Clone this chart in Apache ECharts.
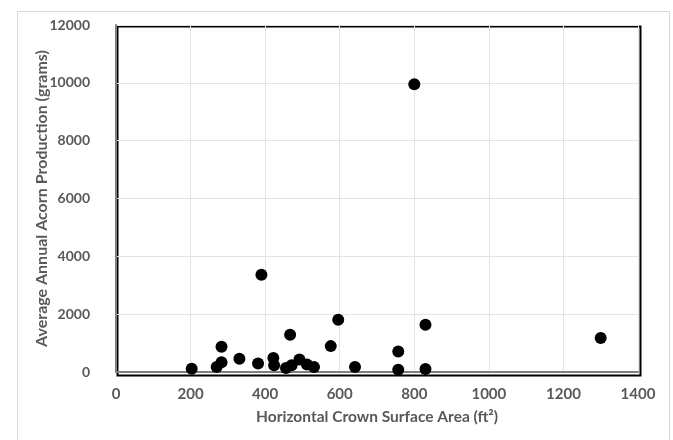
<!DOCTYPE html>
<html>
<head>
<meta charset="utf-8">
<script src="https://cdn.jsdelivr.net/npm/echarts@6/dist/echarts.min.js"></script>
<style>html,body{margin:0;padding:0;background:#fff}#c{width:673px;height:440px}</style>
</head>
<body>
<div id="c"></div>
<script>
const crownArea = [203, 270, 283, 283, 331, 381, 390, 422, 424, 456, 467, 471, 492, 512, 531, 576, 596, 641, 757, 757, 800, 830, 830, 1300];
const acornGrams = [114, 172, 340, 870, 459, 290, 3360, 483, 230, 140, 1290, 230, 430, 260, 172, 895, 1805, 172, 711, 79, 9950, 1633, 103, 1173];
const xTicks = [0, 200, 400, 600, 800, 1000, 1200, 1400];
const yTicks = [0, 2000, 4000, 6000, 8000, 10000, 12000];
const xTitle = 'Horizontal Crown Surface Area (ft²)';
const yTitle = 'Average Annual Acorn Production (grams)';

const points = crownArea.map((x, i) => [x, acornGrams[i]]);
const font = 'Lato, "Open Sans", sans-serif';
const chart = echarts.init(document.getElementById('c'), null, {renderer: 'canvas'});
chart.setOption({
  animation: false,
  graphic: [{
    type: 'rect', left: 15, top: 9, shape: {width: 652, height: 440},
    style: {fill: 'none', stroke: '#d9d9d9', lineWidth: 1}, silent: true, z: 0
  }, {
    type: 'rect', left: 115, top: 24, shape: {width: 523, height: 349},
    style: {fill: 'none', stroke: '#000', lineWidth: 2}, silent: true, z: 1
  }],
  grid: {left: 116, right: 35, top: 25, bottom: 68, show: false, containLabel: false},
  xAxis: {
    type: 'value', min: xTicks[0], max: xTicks[xTicks.length - 1], interval: 200,
    name: xTitle, nameLocation: 'middle', nameGap: 37, nameMoveOverlap: false,
    nameTextStyle: {fontFamily: font, fontWeight: 'bold', fontSize: 15.5, color: '#595959'},
    axisLine: {show: true, onZero: false, lineStyle: {color: '#7f7f7f', width: 2}},
    axisTick: {show: false},
    axisLabel: {fontFamily: font, fontWeight: 'bold', fontSize: 15, color: '#595959', margin: 15,
      formatter: v => String(v)},
    splitLine: {show: true, lineStyle: {color: '#e3e3e3', width: 1}},
    z: 2
  },
  yAxis: {
    type: 'value', min: yTicks[0], max: yTicks[yTicks.length - 1], interval: 2000,
    name: yTitle, nameLocation: 'middle', nameGap: 66, nameMoveOverlap: false,
    nameTextStyle: {fontFamily: font, fontWeight: 'bold', fontSize: 16, color: '#595959'},
    axisLine: {show: true, lineStyle: {color: '#7f7f7f', width: 2}},
    axisTick: {show: false},
    axisLabel: {fontFamily: font, fontWeight: 'bold', fontSize: 14, color: '#595959', margin: 26,
      formatter: v => String(v)},
    splitLine: {show: true, lineStyle: {color: '#e3e3e3', width: 1}},
    z: 2
  },
  series: [{
    type: 'scatter', data: points, symbol: 'circle', symbolSize: 12,
    itemStyle: {color: '#000', opacity: 1}, z: 3
  }]
});
</script>
</body>
</html>
